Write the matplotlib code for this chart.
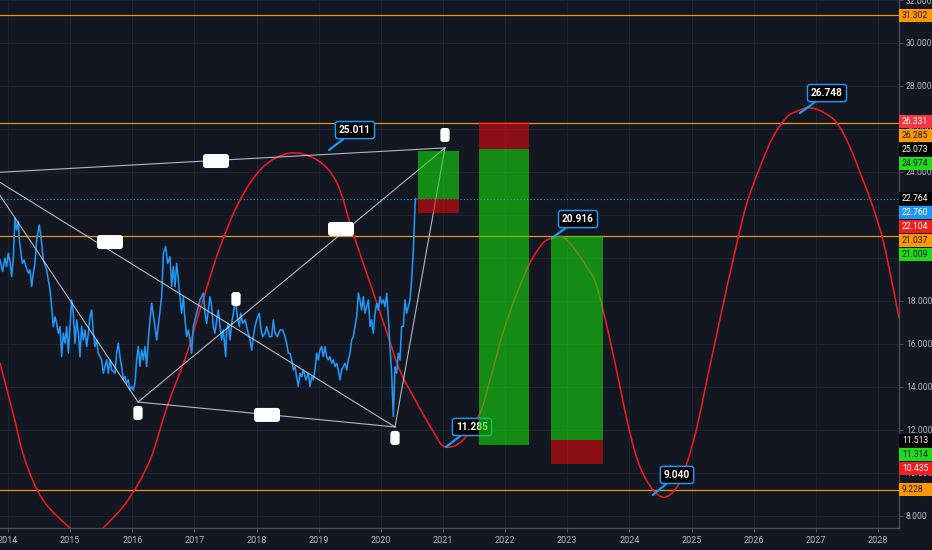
import matplotlib
matplotlib.use('Agg')
import matplotlib.pyplot as plt
import matplotlib.transforms as mtransforms
from matplotlib.patches import Rectangle, PathPatch
from matplotlib.path import Path
import numpy as np

# ---------------- data ----------------
price_t = [2013.871, 2013.914, 2013.951, 2013.978, 2014.005, 2014.032, 2014.059, 2014.086, 2014.112, 2014.139,
           2014.166, 2014.182, 2014.204, 2014.230, 2014.257, 2014.289, 2014.327, 2014.354, 2014.381, 2014.407,
           2014.434, 2014.461, 2014.504, 2014.542, 2014.568, 2014.622, 2014.676, 2014.702, 2014.729, 2014.756,
           2014.783, 2014.810, 2014.837, 2014.863, 2014.890, 2014.917, 2014.944, 2014.971, 2014.998, 2015.024,
           2015.051, 2015.078, 2015.105, 2015.132, 2015.158, 2015.185, 2015.212, 2015.239, 2015.266, 2015.293,
           2015.319, 2015.346, 2015.373, 2015.400, 2015.427, 2015.453, 2015.480, 2015.507, 2015.534, 2015.561,
           2015.588, 2015.614, 2015.641, 2015.668, 2015.722, 2015.748, 2015.775, 2015.802, 2015.829, 2015.856,
           2015.883, 2015.909, 2015.936, 2015.963, 2015.990, 2016.017, 2016.043, 2016.070, 2016.097, 2016.124,
           2016.151, 2016.178, 2016.204, 2016.231, 2016.258, 2016.285,
           2016.312, 2016.365, 2016.392, 2016.435, 2016.473, 2016.500, 2016.537, 2016.569, 2016.607, 2016.634,
           2016.660, 2016.687, 2016.714, 2016.752, 2016.794, 2016.821, 2016.848, 2016.875, 2016.902, 2016.929,
           2016.955, 2016.982, 2017.036, 2017.090, 2017.143, 2017.170, 2017.197, 2017.250, 2017.277, 2017.304,
           2017.331, 2017.358, 2017.385, 2017.411, 2017.438, 2017.465, 2017.503, 2017.519, 2017.546, 2017.572,
           2017.599, 2017.626, 2017.664, 2017.690, 2017.723, 2017.744, 2017.776, 2017.814, 2017.841, 2017.867,
           2017.894, 2017.921, 2017.948, 2017.975, 2018.001, 2018.044, 2018.071, 2018.098, 2018.136, 2018.163,
           2018.205, 2018.243, 2018.270, 2018.297, 2018.334, 2018.377, 2018.420, 2018.458, 2018.484, 2018.511,
           2018.538, 2018.565, 2018.592, 2018.618, 2018.645, 2018.672, 2018.699, 2018.726, 2018.752, 2018.795,
           2018.833, 2018.860, 2018.887, 2018.913, 2018.940, 2018.967, 2018.994, 2019.021, 2019.047, 2019.074,
           2019.101, 2019.128, 2019.155, 2019.182, 2019.208, 2019.235, 2019.262, 2019.289, 2019.316, 2019.343,
           2019.369, 2019.396, 2019.423, 2019.450, 2019.477, 2019.504, 2019.530, 2019.557, 2019.584, 2019.611,
           2019.638, 2019.665, 2019.691, 2019.718, 2019.745, 2019.772, 2019.799, 2019.826, 2019.852, 2019.879,
           2019.906, 2019.933, 2019.960, 2019.986, 2020.013, 2020.040, 2020.067, 2020.094, 2020.120, 2020.147,
           2020.174, 2020.201, 2020.228, 2020.255, 2020.281, 2020.308, 2020.335, 2020.362, 2020.389, 2020.416,
           2020.442, 2020.469, 2020.496, 2020.523, 2020.539, 2020.555, 2020.562]
price_v = [19.91, 19.37, 19.99, 19.60, 20.22, 19.83, 19.13, 20.06, 21.85, 21.30,
           21.69, 20.84, 20.37, 19.75, 19.91, 19.60, 19.29, 19.44, 18.67, 19.29,
           19.75, 20.84, 21.54, 20.68, 19.91, 19.44, 18.51, 17.74, 16.81, 17.27,
           16.96, 16.50, 16.81, 15.41, 16.50, 16.03, 16.81, 15.57, 16.81, 18.05,
           17.43, 16.03, 17.12, 16.50, 15.41, 16.81, 16.19, 16.65, 15.88, 16.50,
           17.27, 17.58, 16.50, 15.88, 16.19, 15.57, 15.41, 15.26, 14.64, 14.95,
           15.26, 14.64, 15.26, 14.79, 14.64, 15.57, 16.03, 15.41, 14.95, 14.33,
           14.48, 14.17, 14.33, 13.86, 14.02, 13.86, 14.17, 15.26, 15.88, 14.95,
           15.72, 15.26, 15.88, 14.95, 16.19, 17.12,
           17.89, 16.81, 16.19, 17.27, 18.20, 20.22, 20.53, 19.75, 20.06, 18.67,
           19.60, 18.67, 19.75, 18.67, 17.43, 18.20, 17.12, 16.34, 16.65, 16.19,
           15.57, 16.81, 17.43, 18.05, 18.36, 17.43, 16.96, 18.20, 17.74, 16.81,
           16.50, 17.12, 17.58, 16.81, 16.19, 16.65, 15.41, 16.65, 16.96, 16.19,
           16.96, 17.43, 18.05, 17.27, 16.81, 17.43, 16.96, 17.12, 16.81, 16.50,
           16.19, 15.72, 16.34, 16.81, 17.12, 17.43, 16.65, 16.34, 16.50, 16.81,
           16.34, 16.34, 17.12, 16.50, 16.34, 16.65, 16.65, 16.34, 16.03, 15.57,
           15.57, 15.26, 14.79, 14.95, 14.48, 14.02, 14.64, 14.48, 14.79, 14.33,
           14.64, 14.02, 14.48, 14.33, 14.79, 15.57, 15.26, 15.72, 15.88, 15.41,
           15.88, 15.41, 15.26, 15.41, 15.10, 15.26, 14.95, 15.10, 14.79, 14.33,
           14.79, 14.95, 15.10, 14.79, 15.26, 15.57, 16.19, 16.34, 16.81, 17.27,
           18.36, 18.05, 17.58, 18.20, 17.43, 17.74, 18.05, 16.81, 17.12, 16.50,
           17.43, 17.89, 17.58, 18.20, 17.89, 18.05, 17.74, 18.36, 17.27, 15.88,
           14.64, 12.62, 14.95, 14.64, 15.57, 15.26, 16.81, 16.81, 18.05, 17.43,
           17.74, 18.05, 18.98, 20.37, 21.61, 22.70, 22.76]

cycle_t = [2013.871, 2014.080, 2014.274, 2014.563, 2014.998, 2015.271, 2015.529, 2015.931, 2016.285, 2016.559,
           2016.881, 2017.138, 2017.412, 2017.734, 2018.104, 2018.538, 2018.973, 2019.294, 2019.552, 2019.826,
           2020.099, 2020.308, 2020.582, 2020.839, 2021.032, 2021.322, 2021.596, 2021.757, 2021.966, 2022.191,
           2022.401, 2022.610, 2022.770, 2022.931, 2023.092, 2023.318, 2023.479, 2023.688, 2023.849, 2024.010,
           2024.171, 2024.380, 2024.573, 2024.766, 2024.927, 2025.088, 2025.249, 2025.410, 2025.571, 2025.731,
           2025.892, 2026.102, 2026.311, 2026.536, 2026.745, 2026.906, 2027.115, 2027.340, 2027.549, 2027.759,
           2027.920, 2028.081, 2028.242, 2028.339]
cycle_v = [15.12, 12.79, 10.60, 8.74, 7.44, 6.88, 7.44, 8.74, 10.60, 13.07,
           15.58, 18.05, 20.51, 22.70, 24.23, 24.88, 24.56, 23.49, 21.16, 18.84,
           16.51, 14.75, 13.25, 11.95, 11.21, 11.53, 12.79, 14.33, 16.51, 18.37,
           19.77, 20.70, 20.93, 20.98, 20.51, 19.58, 18.65, 16.19, 14.00, 11.86,
           10.28, 9.21, 8.88, 9.35, 10.47, 12.14, 14.33, 16.51, 18.65, 20.70,
           22.56, 24.23, 25.63, 26.56, 26.88, 26.98, 26.79, 26.28, 25.16, 23.63,
           22.37, 20.84, 18.65, 17.21]

# harmonic pattern points: X (off-chart), A, D, C
pat_X = (2013.630, 23.95)
pat_A = (2016.092, 13.30)
pat_D = (2020.228, 12.14)
pat_C = (2021.032, 25.12)
pattern_segments = [(pat_X, pat_C), (pat_X, pat_D), (pat_X, pat_A), (pat_A, pat_C), (pat_A, pat_D), (pat_D, pat_C)]
wide_tags = [(2017.347, 24.51), (2015.641, 20.74), (2019.359, 21.35), (2018.168, 12.70)]
narrow_tags = [(2017.669, 18.09), (2016.092, 12.79), (2020.228, 11.63), (2021.032, 25.72)]

# position boxes: (t0, t1, [(low, high, kind), ...])
boxes = [
    (2020.598, 2021.258, [(22.760, 24.974, 'g'), (22.104, 22.760, 'r')]),
    (2021.580, 2022.384, [(25.073, 26.331, 'r'), (11.314, 25.073, 'g')]),
    (2022.738, 2023.575, [(11.513, 21.009, 'g'), (10.435, 11.513, 'r')]),
]

orange_levels = [31.302, 26.285, 21.037, 9.228]
last_price = 22.760

callouts = [  # text, point, text position
    ('25.011', (2019.166, 25.02), (2019.584, 25.95)),
    ('20.916', (2022.754, 20.93), (2023.173, 21.81)),
    ('11.285', (2021.049, 11.21), (2021.467, 12.14)),
    ('9.040', (2024.380, 8.98), (2024.766, 9.91)),
    ('26.748', (2026.745, 26.74), (2027.180, 27.67)),
]

axis_labels = [  # value, background, text color
    (31.302, '#ff9800', '#131722'),
    (26.331, '#f23645', '#ffffff'),
    (26.285, '#ff9800', '#131722'),
    (25.073, '#000000', '#ffffff'),
    (24.974, '#22d91c', '#131722'),
    (22.764, '#000000', '#ffffff'),
    (22.760, '#2196f3', '#ffffff'),
    (22.104, '#f21d1d', '#ffffff'),
    (21.037, '#ff9800', '#131722'),
    (21.009, '#22d91c', '#131722'),
    (11.513, '#000000', '#ffffff'),
    (11.314, '#22d91c', '#131722'),
    (10.435, '#f21d1d', '#ffffff'),
    (9.228, '#ff9800', '#131722'),
]

year_ticks = list(range(2014, 2029))
value_ticks = list(range(8, 33, 2))

# ---------------- style ----------------
BG = '#131722'
GRID = '#1f2330'
AXC = '#4c505b'
TXT = '#b2b5be'
BLUE = '#2196f3'
FONT = 'Roboto'
FS = 6.2

W, H, DPI = 932, 550, 100
fig = plt.figure(figsize=(W / DPI, H / DPI), dpi=DPI, facecolor=BG)
ax_l, ax_b, ax_w, ax_h = 0.0, 22 / H, 899 / W, 528 / H
ax = fig.add_axes([ax_l, ax_b, ax_w, ax_h], facecolor=BG)
ax.set_xlim(2013.871, 2028.339)
ax.set_ylim(7.44, 32.0)

ax.set_xticks(year_ticks)
ax.set_xticklabels([str(y) for y in year_ticks])
ax.yaxis.tick_right()
ax.set_yticks(value_ticks)
ax.set_yticklabels([f'{v:.3f}' for v in value_ticks])
ax.tick_params(axis='both', colors=AXC, labelcolor=TXT, labelsize=FS, length=3, width=0.8)
ax.tick_params(axis='x', labelsize=FS + 0.3)
ax.tick_params(axis='y', pad=2)
ax.tick_params(axis='x', pad=3)
for lab in ax.get_xticklabels() + ax.get_yticklabels():
    lab.set_fontfamily(FONT)
for s in ['top', 'left']:
    ax.spines[s].set_visible(False)
for s in ['right', 'bottom']:
    ax.spines[s].set_color(AXC)
    ax.spines[s].set_linewidth(0.9)
ax.grid(True, color=GRID, lw=0.8, zorder=0)
ax.set_axisbelow(True)

# horizontal levels
for lv in orange_levels:
    ax.axhline(lv, color='#e8951c', lw=0.9, zorder=2)
ax.axhline(last_price, color=BLUE, lw=0.8, ls=(0, (1, 2)), zorder=2)

# cycle curve, drawn as a smooth Bezier path through the read points
pts = np.column_stack([cycle_t, cycle_v])
verts = [tuple(pts[0])]
codes = [Path.MOVETO]
n = len(pts)
for i in range(n - 1):
    p0 = pts[i - 1] if i > 0 else pts[i]
    p1 = pts[i]
    p2 = pts[i + 1]
    p3 = pts[i + 2] if i + 2 < n else pts[i + 1]
    c1 = p1 + (p2 - p0) / 6.0
    c2 = p2 - (p3 - p1) / 6.0
    verts += [tuple(c1), tuple(c2), tuple(p2)]
    codes += [Path.CURVE4, Path.CURVE4, Path.CURVE4]
ax.add_patch(PathPatch(Path(verts, codes), fill=False, ec='#f0191e', lw=1.15, zorder=2.5,
                       transform=ax.transData))

# price line
ax.plot(price_t, price_v, color=BLUE, lw=1.15, zorder=3)

# pattern
for (p, q) in pattern_segments:
    ax.plot([p[0], q[0]], [p[1], q[1]], color='#d1d4dc', lw=0.8, alpha=0.85, zorder=4)
for (x, y) in wide_tags:
    ax.text(x, y, '\u2003\u2003\u2002', ha='center', va='center', fontsize=6, family='DejaVu Sans',
            bbox=dict(boxstyle='round,pad=0.3,rounding_size=0.35', fc='white', ec='none'), zorder=4.5)
for (x, y) in narrow_tags:
    ax.text(x, y, '\u2002', ha='center', va='center', fontsize=6, family='DejaVu Sans',
            bbox=dict(boxstyle='round,pad=0.3,rounding_size=0.35', fc='white', ec='none'), zorder=4.5)

# callouts
for txt, pt, tp in callouts:
    ax.annotate(txt, xy=pt, xytext=tp, xycoords='data', textcoords='data', ha='center', va='center',
                color='white', fontsize=7.3, fontweight='bold', family=FONT,
                bbox=dict(boxstyle='round,pad=0.35,rounding_size=0.25', fc='#000000', ec=BLUE, lw=1.1),
                arrowprops=dict(arrowstyle='-', color=BLUE, lw=1.6, shrinkA=0, shrinkB=0), zorder=5)

# boxes
for t0, t1, parts in boxes:
    for lo, hi, kind in parts:
        col = '#15da0b' if kind == 'g' else '#dc0a0b'
        ax.add_patch(Rectangle((t0, lo), t1 - t0, hi - lo, fc=col, ec='none', alpha=0.6, zorder=6))

# right-axis price labels (stacked)
lab_h = 14.0
trans = ax.transData
inv = ax.transData.inverted()
btrans = mtransforms.blended_transform_factory(ax.transAxes, ax.transData)
prev = None
x_right = (W - ax_l * W) / (ax_w * W)
for val, bg, fg in sorted(axis_labels, key=lambda r: -r[0]):
    yd = trans.transform((2020.0, val))[1]
    if prev is not None and yd > prev - lab_h:
        yd = prev - lab_h
    prev = yd
    ydata = inv.transform((0, yd))[1]
    ylo = inv.transform((0, yd - lab_h / 2 + 0.5))[1]
    yhi = inv.transform((0, yd + lab_h / 2 - 0.5))[1]
    ax.add_patch(Rectangle((1.0, ylo), x_right - 1.0, yhi - ylo, transform=btrans, fc=bg, ec='none',
                           clip_on=False, zorder=10))
    ax.text(1.0 + 3 / 899, ydata, f'{val:.3f}', transform=btrans, ha='left', va='center', color=fg,
            fontsize=FS, family=FONT, clip_on=False, zorder=11)

fig.savefig('out.png', dpi=DPI, facecolor=BG)
